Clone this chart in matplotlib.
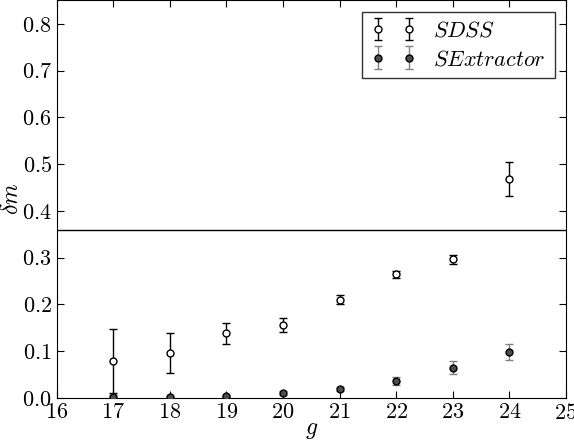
import matplotlib
matplotlib.use('Agg')
import matplotlib.pyplot as plt

plt.rcParams['font.family'] = 'serif'
plt.rcParams['font.serif'] = ['cmr10']
plt.rcParams['mathtext.fontset'] = 'cm'
plt.rcParams['axes.formatter.use_mathtext'] = True
plt.rcParams['xtick.direction'] = 'in'
plt.rcParams['ytick.direction'] = 'in'
plt.rcParams['xtick.top'] = True
plt.rcParams['ytick.right'] = True

# magnitude bins
g = [17, 18, 19, 20, 21, 22, 23, 24]

# SDSS
sdss_dm = [0.079, 0.096, 0.138, 0.155, 0.210, 0.264, 0.296, 0.468]
sdss_err = [0.068, 0.043, 0.023, 0.015, 0.009, 0.007, 0.009, 0.037]

# SExtractor
sex_dm = [0.002, 0.002, 0.004, 0.010, 0.019, 0.036, 0.064, 0.098]
sex_err = [0.004, 0.002, 0.003, 0.004, 0.005, 0.008, 0.014, 0.018]

xticks = list(range(16, 26))
yticks = [0.0, 0.1, 0.2, 0.3, 0.4, 0.5, 0.6, 0.7, 0.8]

fig = plt.figure(figsize=(5.74, 4.43), dpi=100)
ax = fig.add_axes([0.0988, 0.102, 0.8872, 0.897])

ax.errorbar(g, sdss_dm, yerr=sdss_err, fmt='o', mfc='white', mec='black',
            ecolor='black', ms=5, mew=1, capsize=3, elinewidth=1,
            label=r'$SDSS$', zorder=3)
ax.errorbar(g, sex_dm, yerr=sex_err, fmt='o', mfc='0.3', mec='black',
            ecolor='0.5', ms=5, mew=1, capsize=3, elinewidth=1,
            label=r'$SExtractor$', zorder=3)

ax.axhline(0.36, color='black', lw=1)

ax.set_xlim(16, 25)
ax.set_ylim(0, 0.85)
ax.set_xticks(xticks)
ax.set_yticks(yticks)
ax.tick_params(labelsize=16, length=5)
ax.set_xlabel(r'$g$', fontsize=17, labelpad=-3)
ax.set_ylabel(r'$\delta m$', fontsize=17, labelpad=-1)

leg = ax.legend(loc='upper right', numpoints=2, fontsize=16, fancybox=False,
                handlelength=2.0, borderaxespad=0.5, labelspacing=0.4)
leg.get_frame().set_edgecolor('black')

fig.savefig('out.png', dpi=100)
